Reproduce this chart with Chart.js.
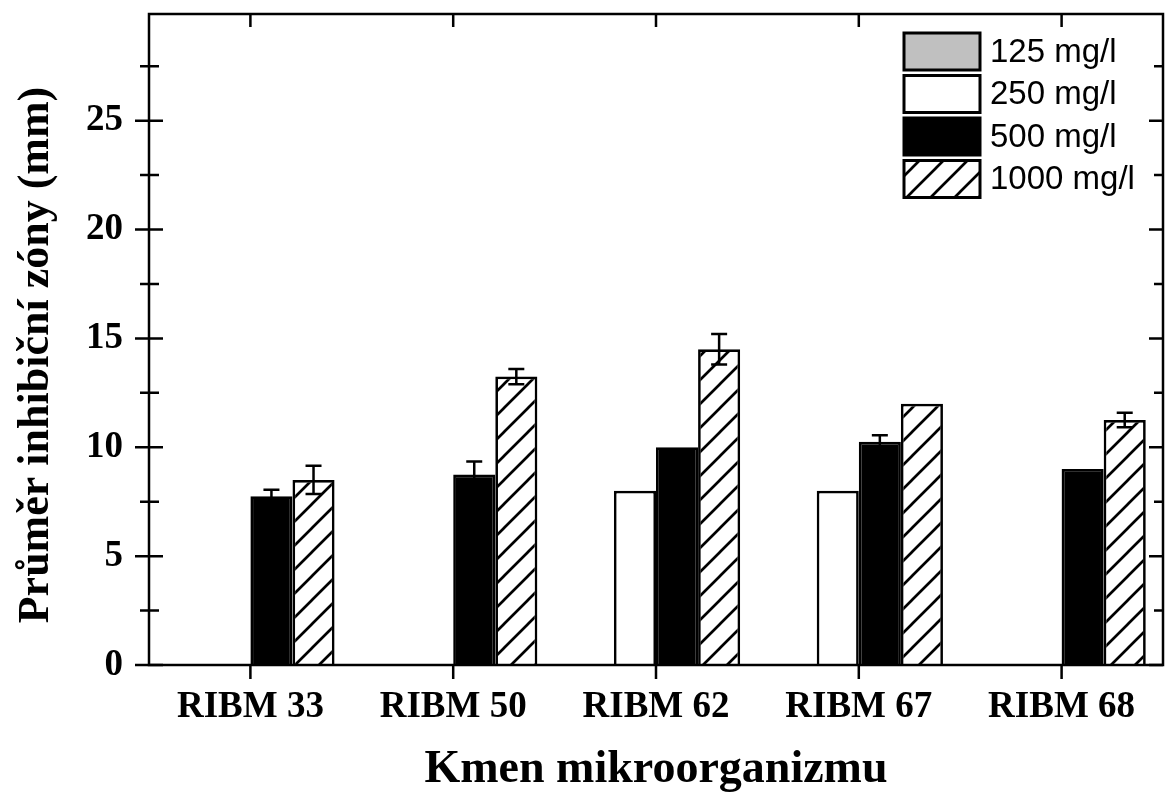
<!DOCTYPE html>
<html>
<head>
<meta charset="utf-8">
<script src="https://cdn.jsdelivr.net/npm/chart.js@4.4.1/dist/chart.umd.min.js"></script>
<style>
  html, body { margin: 0; padding: 0; background: #ffffff; }
  #wrap { width: 1167px; height: 793px; }
</style>
</head>
<body>
<div id="wrap"><canvas id="c" width="1167" height="793"></canvas></div>
<script>
// Inhibition zone diameters (mm) per strain and concentration
const strains = ['RIBM 33', 'RIBM 50', 'RIBM 62', 'RIBM 67', 'RIBM 68'];
const seriesNames = ['125 mg/l', '250 mg/l', '500 mg/l', '1000 mg/l'];
const zone125 = [null, null, null, null, null];
const zone250 = [null, null, 8, 8, null];
const zone500 = [7.75, 8.75, 10, 10.25, 9];
const zone1000 = [8.5, 13.25, 14.5, 12, 11.25];
const err125 = [0, 0, 0, 0, 0];
const err250 = [0, 0, 0, 0, 0];
const err500 = [0.3, 0.6, 0, 0.3, 0];
const err1000 = [0.65, 0.35, 0.7, 0, 0.33];
const yTickLabels = ['0', '5', '10', '15', '20', '25'];
const yTitle = 'Průměr inhibiční zóny (mm)';
const xTitle = 'Kmen mikroorganizmu';

const SERIF = "'Liberation Serif', 'Times New Roman', serif";
const SANS = "'Liberation Sans', Arial, sans-serif";
const LINE = 2.5;

function hatchPattern() {
  const s = 24;
  const c = document.createElement('canvas');
  c.width = s; c.height = s;
  const g = c.getContext('2d');
  g.fillStyle = '#ffffff';
  g.fillRect(0, 0, s, s);
  g.strokeStyle = '#000000';
  g.lineWidth = 2.7;
  g.beginPath();
  g.moveTo(-2, s + 2); g.lineTo(s + 2, -2);
  g.moveTo(-2, 2); g.lineTo(2, -2);
  g.moveTo(s - 2, s + 2); g.lineTo(s + 2, s - 2);
  g.stroke();
  return g.createPattern(c, 'repeat');
}

const fills = ['#c0c0c0', '#ffffff', '#000000', hatchPattern()];
const values = [zone125, zone250, zone500, zone1000];
const errors = [err125, err250, err500, err1000];

// Frame with crossing ticks on the left, inward ticks elsewhere
const framePlugin = {
  id: 'frame',
  afterDatasetsDraw(chart) {
    const { ctx, chartArea: a, scales } = chart;
    const y = scales.y, x = scales.x;
    ctx.save();
    ctx.strokeStyle = '#000';
    ctx.lineWidth = LINE;
    ctx.lineCap = 'butt';
    ctx.strokeRect(a.left, a.top, a.right - a.left, a.bottom - a.top);
    ctx.beginPath();
    for (let v = 0; v <= y.max; v += 2.5) {
      const py = y.getPixelForValue(v);
      const major = Math.abs(v % 5) < 1e-6;
      if (major) {
        ctx.moveTo(a.left - 14, py); ctx.lineTo(a.left + 14, py);
        ctx.moveTo(a.right - 14, py); ctx.lineTo(a.right, py);
      } else {
        ctx.moveTo(a.left - 9, py); ctx.lineTo(a.left + 10, py);
        ctx.moveTo(a.right - 9, py); ctx.lineTo(a.right, py);
      }
    }
    for (let i = 0; i < strains.length; i++) {
      const px = x.getPixelForValue(i);
      ctx.moveTo(px, a.bottom); ctx.lineTo(px, a.bottom + 14);
      ctx.moveTo(px, a.top); ctx.lineTo(px, a.top + 13);
    }
    ctx.stroke();
    ctx.restore();
  }
};

// Standard deviation whiskers
const errorPlugin = {
  id: 'errorBars',
  afterDatasetsDraw(chart) {
    const { ctx } = chart;
    const y = chart.scales.y;
    ctx.save();
    ctx.strokeStyle = '#000';
    ctx.lineWidth = LINE;
    chart.data.datasets.forEach((ds, di) => {
      const meta = chart.getDatasetMeta(di);
      ds.data.forEach((v, j) => {
        const e = ds.errors[j];
        if (v == null || !e) return;
        const bar = meta.data[j];
        const x0 = bar.x;
        const top = y.getPixelForValue(v + e);
        const bot = y.getPixelForValue(v - e);
        ctx.beginPath();
        ctx.moveTo(x0, top); ctx.lineTo(x0, bot);
        ctx.moveTo(x0 - 8, top); ctx.lineTo(x0 + 8, top);
        ctx.moveTo(x0 - 8, bot); ctx.lineTo(x0 + 8, bot);
        ctx.stroke();
      });
    });
    ctx.restore();
  }
};

// Boxed legend in the upper right corner and the rotated y title
const legendPlugin = {
  id: 'boxLegend',
  afterDraw(chart) {
    const { ctx, chartArea: a } = chart;
    const bx = a.right - 259, by = a.top + 19, bw = 76, bh = 37, pitch = 42.5;
    ctx.save();
    ctx.font = '33px ' + SANS;
    ctx.textBaseline = 'middle';
    ctx.textAlign = 'left';
    chart.data.datasets.forEach((ds, i) => {
      const top = by + i * pitch;
      ctx.fillStyle = ds.backgroundColor;
      ctx.fillRect(bx, top, bw, bh);
      ctx.strokeStyle = '#000';
      ctx.lineWidth = 3;
      ctx.strokeRect(bx, top, bw, bh);
      ctx.fillStyle = '#000';
      ctx.fillText(ds.label, bx + bw + 10, top + bh / 2 + 1);
    });
    ctx.restore();

    ctx.save();
    ctx.translate(48, 355);
    ctx.rotate(-Math.PI / 2);
    ctx.font = 'bold 44px ' + SERIF;
    ctx.fillStyle = '#000';
    ctx.textAlign = 'center';
    ctx.textBaseline = 'alphabetic';
    ctx.fillText(yTitle, 0, 0);
    ctx.restore();
  }
};

new Chart(document.getElementById('c'), {
  type: 'bar',
  data: {
    labels: strains,
    datasets: seriesNames.map((name, i) => ({
      label: name,
      data: values[i],
      errors: errors[i],
      backgroundColor: fills[i],
      borderColor: '#000000',
      borderWidth: 2.7,
      borderSkipped: 'start',
      categoryPercentage: 0.83,
      barPercentage: 1.0
    }))
  },
  options: {
    responsive: false,
    animation: false,
    devicePixelRatio: 1,
    layout: { padding: { left: 0, right: 4, top: 14, bottom: 0 } },
    plugins: {
      legend: { display: false },
      tooltip: { enabled: false }
    },
    scales: {
      x: {
        type: 'category',
        grid: { display: false, drawTicks: false },
        border: { display: false },
        ticks: {
          color: '#000',
          padding: 20,
          font: { family: SERIF, size: 37, weight: 'bold' }
        },
        title: {
          display: true,
          text: xTitle,
          color: '#000',
          padding: { top: 0, bottom: 0 },
          font: { family: SERIF, size: 46, weight: 'bold', lineHeight: 1.0 }
        },
        afterFit(scale) {
          scale.height = 128;
          scale.paddingLeft = 0; scale.paddingRight = 0;
        }
      },
      y: {
        type: 'linear',
        min: 0,
        max: 29.9,
        grid: { display: false, drawTicks: false },
        border: { display: false },
        ticks: {
          stepSize: 5,
          includeBounds: false,
          color: '#000',
          padding: 26,
          font: { family: SERIF, size: 37, weight: 'bold' },
          callback: (v) => yTickLabels.includes(String(v)) ? String(v) : ''
        },
        afterFit(scale) {
          scale.width = 149;
          scale.paddingTop = 0; scale.paddingBottom = 0;
        }
      }
    }
  },
  plugins: [framePlugin, errorPlugin, legendPlugin]
});
</script>
</body>
</html>
